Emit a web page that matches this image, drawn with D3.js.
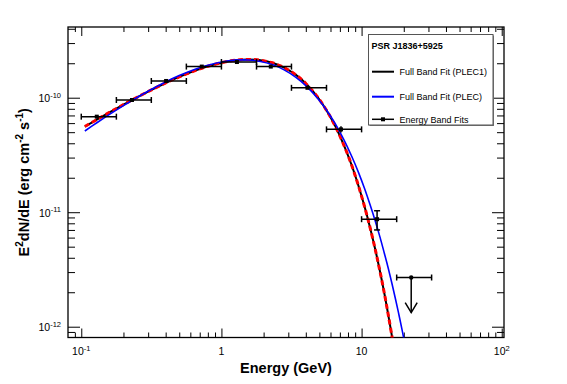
<!DOCTYPE html>
<html><head><meta charset="utf-8">
<script src="https://cdn.jsdelivr.net/npm/d3@7"></script>
<style>
body{margin:0;background:#fff}
svg{display:block}
text{font-family:"Liberation Sans",Arial,Helvetica,sans-serif;fill:#000}
</style></head>
<body><svg id="c" width="567" height="384"></svg>
<script>
// ---------------- data ----------------
const xDomain = [0.0804, 103.8];
const yDomain = [8.05e-13, 4.145e-10];

const xMajor = [0.1, 1, 10, 100];
const xLabelBase = ["10", "1", "10", "10"];
const xLabelExp  = ["-1", "", "", "2"];
const yMajor = [1e-12, 1e-11, 1e-10];
const yLabelBase = ["10", "10", "10"];
const yLabelExp  = ["-12", "-11", "-10"];

// Full band fit (PLEC1), black solid + red dashed
const plec1E = [0.106,0.13,0.16,0.2,0.25,0.32,0.4,0.5,0.65,0.8,1.0,1.25,1.55,1.9,2.3,2.8,3.4,4.0,4.8,5.6,6.5,7.5,8.5,9.5,10.5,11.5,12.5,13.5,14.5,15.5,16.5,17];
const plec1F = [5.60e-11,6.47e-11,7.48e-11,8.71e-11,1.008e-10,1.178e-10,1.345e-10,1.519e-10,1.726e-10,1.881e-10,2.023e-10,2.122e-10,2.159e-10,2.124e-10,2.018e-10,1.834e-10,1.582e-10,1.332e-10,1.032e-10,7.82e-11,5.62e-11,3.82e-11,2.57e-11,1.70e-11,1.12e-11,7.33e-12,4.77e-12,3.08e-12,1.99e-12,1.27e-12,8.15e-13,6.51e-13];

// Full band fit (PLEC), blue
const plecE = [0.106,0.13,0.16,0.2,0.25,0.32,0.4,0.5,0.65,0.8,1.0,1.25,1.55,1.9,2.3,2.8,3.4,4.0,4.8,5.6,6.5,7.5,8.5,9.5,10.5,11.5,12.5,13.5,14.5,15.5,16.5,17.5,18.5,19.5,20.5];
const plecF = [5.12e-11,6.07e-11,7.18e-11,8.53e-11,1.0055e-10,1.192e-10,1.374e-10,1.561e-10,1.774e-10,1.924e-10,2.051e-10,2.128e-10,2.135e-10,2.071e-10,1.946e-10,1.751e-10,1.508e-10,1.276e-10,1.006e-10,7.86e-11,5.90e-11,4.27e-11,3.08e-11,2.23e-11,1.61e-11,1.16e-11,8.43e-12,6.12e-12,4.43e-12,3.24e-12,2.36e-12,1.72e-12,1.26e-12,9.24e-13,6.81e-13];

// Energy band fits
const bandE   = [0.129,0.23,0.403,0.724,1.29,2.25,4.11,7.13,12.9];
const bandLo  = [0.1,0.178,0.316,0.562,1.0,1.78,3.16,5.62,10.0];
const bandHi  = [0.178,0.316,0.562,1.0,1.78,3.16,5.62,10.0,17.8];
const bandF   = [6.83e-11,9.55e-11,1.40e-10,1.87e-10,2.05e-10,1.87e-10,1.22e-10,5.29e-11,8.69e-12];
const bandFLo = [6.6e-11,9.3e-11,1.37e-10,1.84e-10,2.01e-10,1.83e-10,1.19e-10,4.98e-11,7.0e-12];
const bandFHi = [7.06e-11,9.8e-11,1.43e-10,1.90e-10,2.09e-10,1.91e-10,1.25e-10,5.62e-11,1.03e-11];

// Upper limit
const ulE = [22.6], ulLo = [17.8], ulHi = [31.6], ulF = [2.69e-12], ulArrowF = [1.33e-12];

const legendTitle = "PSR J1836+5925";
const legendLabels = ["Full Band Fit (PLEC1)", "Full Band Fit (PLEC)", "Energy Band Fits"];
const xTitle = "Energy (GeV)";

// ---------------- drawing ----------------
const svg = d3.select("#c");
const L = 68, R = 504, T = 27, B = 337.5;
const x = d3.scaleLog().domain(xDomain).range([L, R]);
const y = d3.scaleLog().domain(yDomain).range([B, T]);

function minorTicks(dom){
  const out=[];
  for(let d=Math.floor(Math.log10(dom[0])); d<=Math.ceil(Math.log10(dom[1])); d++)
    for(let m=2;m<=9;m++){const v=m*Math.pow(10,d); if(v>=dom[0]&&v<=dom[1]) out.push(v);}
  return out;
}
const xMinor = minorTicks(xDomain), yMinor = minorTicks(yDomain);

function drawAxis(gen, transform){
  const g = svg.append("g").attr("transform", transform).call(gen);
  g.select(".domain").remove();
  g.selectAll(".tick line").attr("stroke","#000").attr("stroke-width",1);
  g.selectAll(".tick text").remove();
}
drawAxis(d3.axisBottom(x).tickValues(xMajor).tickSize(-9).tickFormat(""), `translate(0,${B})`);
drawAxis(d3.axisBottom(x).tickValues(xMinor).tickSize(-5).tickFormat(""), `translate(0,${B})`);
drawAxis(d3.axisTop(x).tickValues(xMajor).tickSize(-9).tickFormat(""), `translate(0,${T})`);
drawAxis(d3.axisTop(x).tickValues(xMinor).tickSize(-5).tickFormat(""), `translate(0,${T})`);
drawAxis(d3.axisLeft(y).tickValues(yMajor).tickSize(-12).tickFormat(""), `translate(${L},0)`);
drawAxis(d3.axisLeft(y).tickValues(yMinor).tickSize(-7).tickFormat(""), `translate(${L},0)`);
drawAxis(d3.axisRight(y).tickValues(yMajor).tickSize(-12).tickFormat(""), `translate(${R},0)`);
drawAxis(d3.axisRight(y).tickValues(yMinor).tickSize(-7).tickFormat(""), `translate(${R},0)`);

// frame
svg.append("rect").attr("x",L).attr("y",T).attr("width",R-L).attr("height",B-T)
  .attr("fill","none").attr("stroke","#000").attr("stroke-width",1.3);

// tick labels
xMajor.forEach((v,i)=>{
  const t = svg.append("text").attr("x",x(v)).attr("y",355).attr("text-anchor","middle").attr("font-size",10.5);
  t.append("tspan").text(xLabelBase[i]);
  if(xLabelExp[i]) t.append("tspan").attr("dy",-4.5).attr("font-size",7.5).text(xLabelExp[i]);
});
yMajor.forEach((v,i)=>{
  const t = svg.append("text").attr("x",61).attr("y",y(v)+4.5).attr("text-anchor","end").attr("font-size",10.5);
  t.append("tspan").text(yLabelBase[i]);
  t.append("tspan").attr("dy",-4.5).attr("font-size",7.5).text(yLabelExp[i]);
});

// axis titles
svg.append("text").attr("x",(L+R)/2).attr("y",373).attr("text-anchor","middle")
  .attr("font-size",14.5).attr("font-weight","bold").text(xTitle);
const yt = svg.append("text").attr("transform",`translate(28.5,${(T+B)/2}) rotate(-90)`)
  .attr("text-anchor","middle").attr("font-size",14.5).attr("font-weight","bold");
yt.append("tspan").text("E");
yt.append("tspan").attr("dy",-6).attr("font-size",10).text("2");
yt.append("tspan").attr("dy",6).text("dN/dE (erg cm");
yt.append("tspan").attr("dy",-6).attr("font-size",10).text("-2");
yt.append("tspan").attr("dy",6).text(" s");
yt.append("tspan").attr("dy",-6).attr("font-size",10).text("-1");
yt.append("tspan").attr("dy",6).text(")");

// clip
svg.append("clipPath").attr("id","clip").append("rect")
  .attr("x",L).attr("y",T).attr("width",R-L).attr("height",B-T);
const plot = svg.append("g").attr("clip-path","url(#clip)");

const line = d3.line().x(d=>x(d[0])).y(d=>y(d[1])).curve(d3.curveCatmullRom);
const plec1 = plec1E.map((e,i)=>[e,plec1F[i]]);
const plec = plecE.map((e,i)=>[e,plecF[i]]);
plot.append("path").attr("d",line(plec1)).attr("fill","none").attr("stroke","#000").attr("stroke-width",2);
plot.append("path").attr("d",line(plec1)).attr("fill","none").attr("stroke","#ff0000").attr("stroke-width",3).attr("stroke-dasharray","5,3");
plot.append("path").attr("d",line(plec)).attr("fill","none").attr("stroke","#0000ff").attr("stroke-width",1.6);

// band points
const eb = svg.append("g").attr("stroke","#000").attr("stroke-width",1.5);
bandE.forEach((e,i)=>{
  const cx=x(e), cy=y(bandF[i]), x0=x(bandLo[i]), x1=x(bandHi[i]);
  eb.append("line").attr("x1",x0).attr("x2",x1).attr("y1",cy).attr("y2",cy);
  eb.append("line").attr("x1",x0).attr("x2",x0).attr("y1",cy-3).attr("y2",cy+3);
  eb.append("line").attr("x1",x1).attr("x2",x1).attr("y1",cy-3).attr("y2",cy+3);
  const y0=y(bandFLo[i]), y1=y(bandFHi[i]);
  eb.append("line").attr("x1",cx).attr("x2",cx).attr("y1",y0).attr("y2",y1);
  if (y0-y1 > 8){
    eb.append("line").attr("x1",cx-3).attr("x2",cx+3).attr("y1",y0).attr("y2",y0);
    eb.append("line").attr("x1",cx-3).attr("x2",cx+3).attr("y1",y1).attr("y2",y1);
  }
  svg.append("rect").attr("x",cx-2).attr("y",cy-2).attr("width",4).attr("height",4).attr("fill","#000");
});
// upper limit
ulE.forEach((e,i)=>{
  const cx=x(e), cy=y(ulF[i]), x0=x(ulLo[i]), x1=x(ulHi[i]), ya=y(ulArrowF[i]);
  eb.append("line").attr("x1",x0).attr("x2",x1).attr("y1",cy).attr("y2",cy);
  eb.append("line").attr("x1",x0).attr("x2",x0).attr("y1",cy-3).attr("y2",cy+3);
  eb.append("line").attr("x1",x1).attr("x2",x1).attr("y1",cy-3).attr("y2",cy+3);
  eb.append("line").attr("x1",cx).attr("x2",cx).attr("y1",cy).attr("y2",ya);
  eb.append("path").attr("d",`M${cx-6},${ya-10}L${cx},${ya}L${cx+6},${ya-10}`).attr("fill","none");
  svg.append("circle").attr("cx",cx).attr("cy",cy).attr("r",2.2).attr("fill","#000");
});

// legend
const lg = svg.append("g");
lg.append("rect").attr("x",369.5).attr("y",35.5).attr("width",124.5).attr("height",90.5).attr("fill","#777");
lg.append("rect").attr("x",368.5).attr("y",34.5).attr("width",124.5).attr("height",90.5)
  .attr("fill","#fff").attr("stroke","#555").attr("stroke-width",1);
lg.append("text").attr("x",371.5).attr("y",49).attr("font-size",9).attr("font-weight","bold").text(legendTitle);
const ly = [71.7, 96.7, 119.3];
const lcol = ["#000","#0000ff","#000"];
legendLabels.forEach((t,i)=>{
  lg.append("line").attr("x1",372).attr("x2",394).attr("y1",ly[i]).attr("y2",ly[i]).attr("stroke",lcol[i]).attr("stroke-width",i===2?1.5:2);
  lg.append("text").attr("x",399.5).attr("y",ly[i]+3.2).attr("font-size",9).text(t);
});
lg.append("rect").attr("x",381).attr("y",ly[2]-2).attr("width",4).attr("height",4).attr("fill","#000");
</script></body></html>
